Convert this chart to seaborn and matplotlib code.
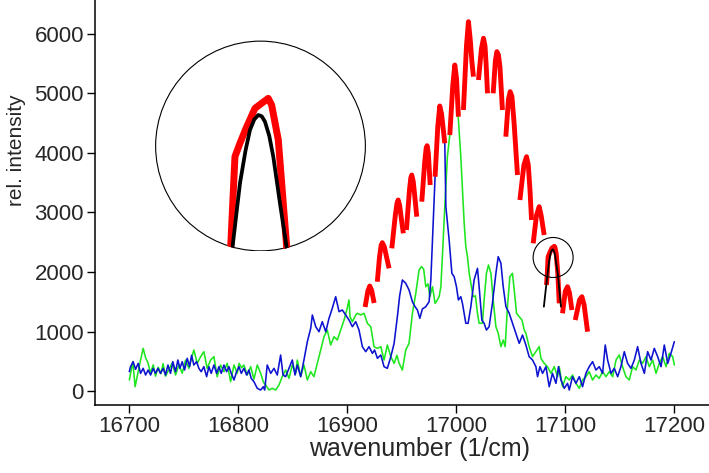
import numpy as np
import pandas as pd
import matplotlib
matplotlib.use("Agg")
import matplotlib.pyplot as plt
import seaborn as sns
from matplotlib.patches import Circle

# ---------------- data ----------------
green_x = [16700, 16701.5, 16703.2, 16705.3, 16707.8, 16710.3, 16712.7, 16714.9, 16717, 16719.5,
           16721.9, 16724, 16726.5, 16729, 16731, 16733.2, 16736.3, 16739.3, 16742.4, 16745.5,
           16748.5, 16751.6, 16754.6, 16757, 16759.2, 16762.3, 16765.4, 16768.4, 16771.4, 16774.6,
           16777.6, 16780.6, 16783.7, 16786.8, 16789.8, 16792.9, 16796, 16799, 16800.6, 16803,
           16805.1, 16806.7, 16808.2, 16811.3, 16814.3, 16817.4, 16820.5, 16823, 16825.1, 16828.1,
           16831.1, 16834.3, 16837.3, 16840.3, 16843.4, 16846.5, 16849.5, 16852.6, 16854.1, 16857.2,
           16860.2, 16863.3, 16866.4, 16869.4, 16872.5, 16875.6, 16878.6, 16881.6, 16884.7, 16887.8,
           16890.8, 16893.9, 16897, 16900, 16901.5, 16902.5, 16904.6, 16907.7, 16909.2, 16912.3,
           16915.3, 16918.4, 16921.5, 16924.5, 16927.6, 16930.7, 16933.7, 16936.7, 16939.9, 16942.9,
           16945.5, 16947.5, 16950.5, 16953.6, 16956.6, 16959.7, 16962.8, 16965.8, 16968, 16970,
           16972, 16974, 16975.7, 16978.1, 16980.5, 16982.6, 16984.2, 16985.8, 16987.2, 16989.4,
           16991.8, 16994, 16998.6, 17001.9, 17004.1, 17005.6, 17007.2, 17008.7, 17010.2, 17011.8,
           17013.9, 17015.4, 17017.5, 17019.4, 17020.9, 17023.9, 17025.5, 17027.6, 17029.5, 17031.7,
           17033.8, 17036.3, 17038.4, 17040.9, 17043, 17044.8, 17046.9, 17049.1, 17051.5, 17053.1,
           17055.2, 17057.7, 17060.2, 17062.3, 17063.8, 17066.8, 17069.9, 17073, 17076, 17077.6,
           17080.6, 17083.6, 17086.8, 17089.8, 17092.9, 17094.4, 17097.4, 17100.5, 17103.6, 17106.6,
           17109.7, 17112.8, 17115.8, 17118.9, 17121.9, 17125, 17128.1, 17131.1, 17134.2, 17137.3,
           17140.3, 17143.4, 17146.5, 17149.5, 17152.5, 17155.6, 17158.7, 17161.7, 17164.8, 17167.9,
           17170.9, 17174, 17177, 17180.1, 17183.2, 17186.2, 17189.3, 17192.4, 17195.4, 17198.5,
           17200]
green_y = [185, 330, 493, 72, 297, 521, 717, 560, 480, 300,
           440, 250, 400, 290, 460, 250, 360, 470, 270, 440,
           300, 520, 380, 550, 689, 465, 577, 661, 381, 521,
           577, 241, 437, 325, 465, 157, 437, 297, 465, 390,
           437, 353, 269, 409, 200, 437, 297, 150, 101, 17,
           45, 17, 101, 241, 353, 213, 437, 297, 521, 241,
           437, 185, 325, 241, 465, 689, 913, 1025, 773, 913,
           857, 1025, 1193, 1400, 1530, 1249, 1165, 1278, 1306, 1278,
           1306, 1138, 1081, 745, 717, 745, 521, 773, 577, 465,
           600, 465, 353, 689, 801, 1306, 1642, 2034, 2090, 2050,
           1753, 1800, 1585, 1753, 1474, 1530, 1585, 1753, 2258, 3098,
           3938, 4302, 5400, 4555, 3938, 3379, 2818, 2426, 2258, 1978,
           1753, 1585, 1600, 1306, 1138, 1138, 1530, 1978, 2118, 1978,
           1530, 1081, 970, 745, 857, 745, 1417, 1921, 1978, 1698,
           1306, 1249, 1193, 1025, 970, 745, 577, 661, 745, 549,
           465, 409, 297, 409, 241, 409, 72, 241, 185, 269,
           129, 45, 185, 241, 325, 185, 269, 213, 325, 241,
           325, 241, 521, 605, 409, 241, 185, 409, 353, 521,
           465, 577, 409, 521, 297, 465, 577, 409, 634, 577,
           437]

blue_x = [16700, 16701.1, 16703.5, 16705.7, 16708.1, 16710.3, 16712.7, 16714.9, 16717.3, 16719.5,
          16721.9, 16724, 16726.2, 16728.6, 16731, 16733.2, 16735.4, 16737.8, 16739.9, 16742.4,
          16744.5, 16746.4, 16748.5, 16750.7, 16753.1, 16755.3, 16757.1, 16759.2, 16761.7, 16763.8,
          16765.9, 16768.4, 16770.9, 16773, 16775.1, 16777.6, 16780.1, 16782.2, 16784.3, 16786.8,
          16789.3, 16791.4, 16793.5, 16796, 16798.4, 16800.6, 16802.7, 16805.1, 16807.6, 16809.7,
          16811.8, 16814.3, 16817.4, 16820.5, 16822.9, 16824.2, 16826.5, 16829.7, 16832.7, 16835.7,
          16838.8, 16841, 16843.4, 16846.5, 16849.5, 16852, 16854.1, 16857.2, 16860.2, 16863.3,
          16866.4, 16867.9, 16871, 16874, 16877, 16880.2, 16883.2, 16886.2, 16889.3, 16892.4,
          16895.4, 16898.5, 16901.6, 16904.6, 16907.7, 16910.7, 16913.8, 16916.9, 16919.9, 16923,
          16925, 16927.6, 16930.7, 16933.7, 16936.7, 16939.9, 16942.9, 16945.9, 16948, 16950.5,
          16953.6, 16956.6, 16959.7, 16962, 16964.3, 16966.5, 16968.9, 16972, 16975, 16976.6,
          16978.1, 16980.5, 16984.8, 16989.4, 16990.4, 16993.4, 16995.9, 16998, 17000.1, 17001.9,
          17004.1, 17005.6, 17008.7, 17010.8, 17013.3, 17016.3, 17019.4, 17020.9, 17023.4, 17025.5,
          17027.6, 17030.1, 17033.1, 17036.3, 17038.4, 17040.9, 17043, 17045.5, 17048.5, 17051.5,
          17054.6, 17057.7, 17060.7, 17063.8, 17066.8, 17069.9, 17073, 17074.5, 17076.7, 17079.1,
          17082.2, 17085.2, 17088.2, 17091.4, 17093.7, 17096, 17099, 17102, 17103.6, 17106.6,
          17109.7, 17112.8, 17115.8, 17118.9, 17121.9, 17125, 17128.1, 17131.1, 17134.2, 17136.6,
          17138.8, 17141.9, 17144.9, 17148, 17151, 17154.1, 17157.1, 17160.2, 17163.3, 17166.3,
          17169.4, 17172.5, 17175.5, 17178.6, 17181.6, 17184.7, 17187.8, 17190.8, 17193.9, 17196.9,
          17200]
blue_y = [325, 409, 493, 364, 465, 297, 381, 269, 353, 269,
          381, 297, 381, 297, 381, 269, 437, 297, 493, 325,
          521, 381, 493, 353, 549, 409, 600, 437, 493, 381,
          325, 409, 241, 409, 297, 437, 297, 409, 297, 437,
          325, 409, 297, 185, 325, 409, 297, 381, 269, 353,
          213, 157, 45, 17, 72, 17, 437, 297, 381, 269,
          605, 269, 241, 381, 521, 269, 437, 241, 521, 829,
          1054, 1278, 1081, 997, 1165, 997, 1222, 1390, 1585, 1333,
          1362, 1278, 1193, 1081, 1165, 1025, 745, 661, 745, 633,
          689, 549, 605, 409, 381, 577, 801, 1249, 1600, 1866,
          1810, 1698, 1500, 1420, 1362, 1222, 1380, 1417, 1500, 1866,
          2538, 3602, 4700, 4163, 3098, 2538, 1978, 1921, 1753, 1530,
          1585, 1474, 1138, 1138, 1417, 1866, 2062, 1753, 1193, 1138,
          1025, 1081, 1474, 1978, 2258, 2146, 1753, 1417, 1306, 1138,
          970, 801, 941, 773, 577, 521, 409, 241, 409, 297,
          409, 72, 297, 129, 409, 185, 45, 129, 17, 241,
          129, 241, 72, 297, 409, 493, 353, 409, 297, 773,
          521, 297, 381, 241, 409, 661, 465, 381, 521, 745,
          465, 297, 661, 521, 717, 577, 409, 773, 465, 634,
          829]

# red band segments (one list per rotational line)
red_seg_x = [
    [16916.3, 16918.8, 16920.6, 16922.3, 16924.6],
    [16927.5, 16929.5, 16931, 16932.1, 16934, 16936, 16938.3],
    [16940.8, 16944, 16945.5, 16946.6, 16948, 16949.5, 16951.4],
    [16954.2, 16957, 16958.2, 16959.1, 16960.5, 16962, 16963.7],
    [16968.3, 16971, 16972.3, 16973.2, 16974.3, 16976],
    [16980.5, 16983, 16984.8, 16986.5, 16988, 16989.4],
    [16994, 16996.8, 16998.6, 17000.2, 17001.9],
    [17006.5, 17009.3, 17011.1, 17012.8, 17014.2, 17015.7],
    [17020.3, 17023, 17024.9, 17026.3, 17027.3, 17028.6],
    [17033.8, 17035.8, 17037.2, 17038.6, 17040, 17042.3],
    [17045.4, 17047.8, 17049.4, 17051, 17053, 17056.1],
    [17058.3, 17062, 17064.4, 17066, 17067.5, 17069],
    [17070.5, 17073.5, 17076, 17077.8, 17080.6],
    [17082.7, 17083.42, 17084.16, 17085.03, 17086.07, 17087.63, 17089.93, 17090.52, 17091.67, 17093.12, 17094.4],
    [17097.4, 17100, 17102, 17103.8, 17106],
    [17109.1, 17113, 17115.2, 17117.2, 17120.4],
]
red_seg_y = [
    [1412, 1680, 1765, 1690, 1479],
    [1837, 2250, 2450, 2493, 2420, 2250, 2062],
    [2398, 2950, 3150, 3210, 3120, 2900, 2650],
    [2706, 3380, 3580, 3630, 3520, 3250, 2930],
    [3182, 3850, 4080, 4123, 4000, 3462],
    [3602, 4450, 4790, 4650, 4400, 4163],
    [4302, 5150, 5479, 5250, 4610],
    [4723, 5800, 6207, 5900, 5550, 5283],
    [5227, 5750, 5928, 5800, 5500, 5003],
    [5003, 5550, 5703, 5650, 5450, 4723],
    [4274, 4900, 5031, 4950, 4500, 3630],
    [3210, 3800, 3938, 3800, 3400, 2874],
    [2482, 2950, 3098, 2950, 2622],
    [1782, 1968, 2250, 2292, 2338, 2401, 2432, 2411, 2302, 1968, 1474],
    [1306, 1680, 1753, 1650, 1361],
    [1193, 1530, 1585, 1450, 997],
]
highlight_seg = 13   # the line that is fitted and magnified

# fitted single line (black)
fit_x = [17080.3, 17082, 17083.76, 17085.03, 17086.0, 17086.76, 17087.5, 17088.2, 17088.8, 17089.36,
         17090.1, 17090.8, 17091.96, 17093.1, 17094.5, 17096]
fit_y = [1417, 1700, 1971, 2167, 2270, 2333, 2366, 2380, 2376, 2359,
         2315, 2250, 2104, 1968, 1700, 1417]

x_ticks = [16700, 16800, 16900, 17000, 17100, 17200]
y_ticks = [0, 1000, 2000, 3000, 4000, 5000, 6000]

# ---------------- style ----------------
sns.set_style("ticks")
plt.rcParams['font.family'] = ['Liberation Sans', 'DejaVu Sans']

GREEN = '#1ee61e'
BLUE = '#0c12d0'
RED = '#ff0000'

df_g = pd.DataFrame({'x': green_x, 'y': green_y})
df_b = pd.DataFrame({'x': blue_x, 'y': blue_y})
rows = []
for i, (xs, ys) in enumerate(zip(red_seg_x, red_seg_y)):
    for xv, yv in zip(xs, ys):
        rows.append((i, xv, yv))
df_r = pd.DataFrame(rows, columns=['seg', 'x', 'y'])
df_f = pd.DataFrame({'x': fit_x, 'y': fit_y})

fig = plt.figure(figsize=(7.09, 4.73), dpi=100)
ax = fig.add_axes([95/709, 68/473, 614/709, 405/473])

sns.lineplot(data=df_g, x='x', y='y', ax=ax, color=GREEN, lw=1.15, sort=False, estimator=None)
sns.lineplot(data=df_b, x='x', y='y', ax=ax, color=BLUE, lw=1.15, sort=False, estimator=None)
sns.lineplot(data=df_r, x='x', y='y', units='seg', estimator=None, ax=ax, color=RED, lw=3.5,
             sort=False, solid_capstyle='butt', solid_joinstyle='round')
sns.lineplot(data=df_f, x='x', y='y', ax=ax, color='black', lw=1.3, sort=False, estimator=None)

# small marker circle around the highlighted line
ax.scatter([17088.8], [2244], s=(40*0.72)**2, facecolors='none', edgecolors='black', linewidths=0.8, zorder=5)

ax.set_xlim(16668.5, 17231.8)
ax.set_ylim(-235, 6571)
ax.set_xticks(x_ticks)
ax.set_yticks(y_ticks)
ax.tick_params(axis='both', labelsize=16, length=6, width=1.0, pad=2, color='black')
for s in ['top', 'right']:
    ax.spines[s].set_visible(False)
for s in ['left', 'bottom']:
    ax.spines[s].set_linewidth(1.1)
    ax.spines[s].set_color('black')
ax.set_xlabel('wavenumber (1/cm)', fontsize=18)
ax.set_ylabel('rel. intensity', fontsize=15)
ax.xaxis.set_label_coords(0.529, -0.08)
ax.yaxis.set_label_coords(-0.112, 0.628)

# magnified inset (circle)
ax_in = fig.add_axes([155/709, (473-251.5)/473, 211/709, 211/473])
ax_in.set_axis_off()
ax_in.patch.set_alpha(0)
df_hl = df_r[df_r['seg'] == highlight_seg]
sns.lineplot(data=df_hl, x='x', y='y', estimator=None, ax=ax_in, color=RED, lw=5.0,
             sort=False, solid_joinstyle='round')
sns.lineplot(data=df_f, x='x', y='y', ax=ax_in, color='black', lw=2.7, sort=False, estimator=None)
ax_in.set_xlim(17070.30, 17106.87)
ax_in.set_ylim(1953.4, 2612.8)
clip = Circle((0.5, 0.5), 0.5, transform=ax_in.transAxes, facecolor='none', edgecolor='none')
ax_in.add_patch(clip)
for ln in ax_in.lines:
    ln.set_clip_path(clip)
ring = Circle((0.5, 0.5), 0.497, transform=ax_in.transAxes, facecolor='none', edgecolor='black', lw=0.8)
ax_in.add_patch(ring)

fig.savefig('out.png', dpi=100)
